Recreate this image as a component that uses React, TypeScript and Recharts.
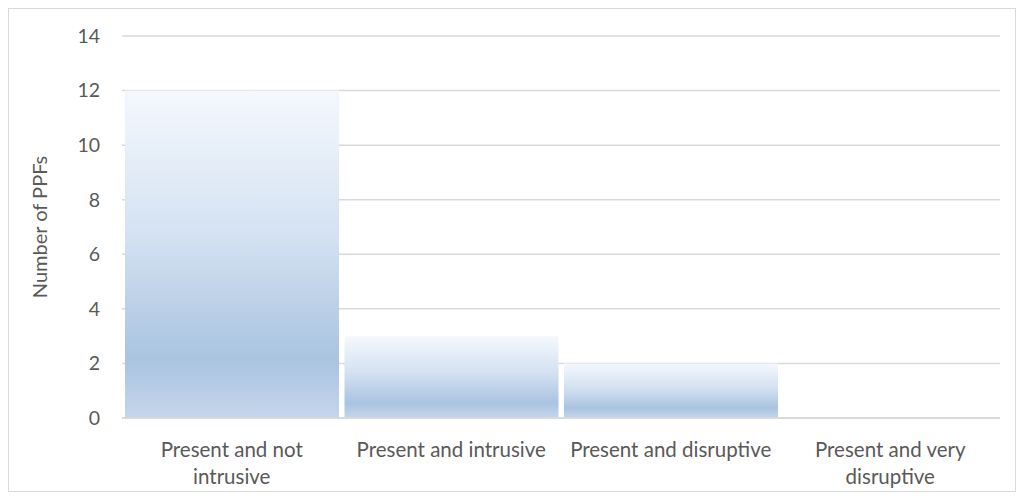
import { BarChart, Bar, XAxis, YAxis, CartesianGrid } from "recharts";

const categories = [
  "Present and not intrusive",
  "Present and intrusive",
  "Present and disruptive",
  "Present and very disruptive",
];
const ppfCounts = [12, 3, 2, 0];
const yTicks = [0, 2, 4, 6, 8, 10, 12, 14];

const data = categories.map((name, i) => ({ name, count: ppfCounts[i] }));

const FONT = "Lato, 'Open Sans', sans-serif";
const TEXT = "#595959";

// greedy wrap, about 22 chars per line
function wrap(label: string, max = 22): string[] {
  const lines: string[] = [];
  let cur = "";
  for (const w of label.split(" ")) {
    const next = cur ? cur + " " + w : w;
    if (next.length > max && cur) {
      lines.push(cur);
      cur = w;
    } else {
      cur = next;
    }
  }
  if (cur) lines.push(cur);
  return lines;
}

function CategoryTick(props: any) {
  const { x, y, payload } = props;
  const lines = wrap(String(payload.value));
  return (
    <text x={x} y={y} textAnchor="middle" fill={TEXT} fontSize={20.5} fontFamily={FONT}>
      {lines.map((ln, i) => (
        <tspan key={i} x={x} dy={i === 0 ? 31 : 27}>
          {ln}
        </tspan>
      ))}
    </text>
  );
}

export default function App() {
  return (
    <div style={{ width: 1006, height: 482, border: "1px solid #d9d9d9", background: "#fff" }}>
      <BarChart
        width={1006}
        height={482}
        data={data}
        margin={{ top: 27, right: 15, bottom: 0, left: 0 }}
        barCategoryGap={3}
      >
        <defs>
          <linearGradient id="barFill" x1="0" y1="0" x2="0" y2="1">
            <stop offset="0%" stopColor="#f4f8fd" />
            <stop offset="45%" stopColor="#d3e1f1" />
            <stop offset="82%" stopColor="#a9c3e0" />
            <stop offset="100%" stopColor="#c5d6eb" />
          </linearGradient>
        </defs>
        <CartesianGrid vertical={false} stroke="#d9d9d9" strokeWidth={1.5} />
        <XAxis
          dataKey="name"
          axisLine={{ stroke: "#d9d9d9", strokeWidth: 1.5 }}
          tickLine={false}
          height={73}
          interval={0}
          tick={<CategoryTick />}
        />
        <YAxis
          domain={[0, 14]}
          ticks={yTicks}
          width={113}
          axisLine={false}
          tickLine={false}
          tickMargin={16}
          tick={{ fill: TEXT, fontSize: 19.5, fontFamily: FONT }}
          label={{
            value: "Number of PPFs",
            angle: -90,
            position: "insideLeft",
            offset: 31,
            style: { textAnchor: "middle", fill: TEXT, fontSize: 20, fontFamily: FONT },
          }}
        />
        <Bar dataKey="count" fill="url(#barFill)" isAnimationActive={false} />
      </BarChart>
    </div>
  );
}
